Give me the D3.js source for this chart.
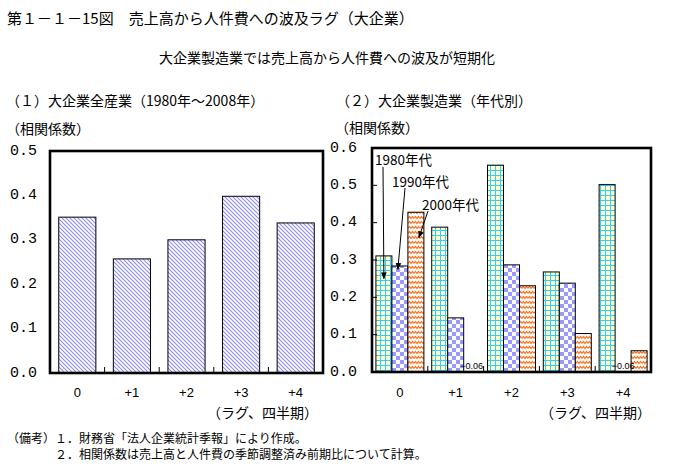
<!DOCTYPE html>
<html><head><meta charset="utf-8">
<script src="https://cdn.jsdelivr.net/npm/d3@7/dist/d3.min.js"></script>
<style>
html,body{margin:0;padding:0;background:#fff;}
svg{display:block;}
text{font-family:"Noto Sans CJK JP","Noto Sans CJK SC",sans-serif;fill:#000;}
</style></head>
<body>
<script>
// ---- data ----
const lagCategories = ["0", "+1", "+2", "+3", "+4"];
const allIndustryValues = [0.351, 0.257, 0.300, 0.398, 0.338];
const decadeSeries = ["1980年代", "1990年代", "2000年代"];
const values1980s = [0.311, 0.388, 0.554, 0.268, 0.502];
const values1990s = [0.284, 0.145, 0.287, 0.238, -0.06];
const values2000s = [0.428, -0.06, 0.231, 0.103, 0.057];
const leftTicks = [0, 0.1, 0.2, 0.3, 0.4, 0.5];
const rightTicks = [0, 0.1, 0.2, 0.3, 0.4, 0.5, 0.6];

const W = 673, H = 469;
const svg = d3.select("body").append("svg").attr("width", W).attr("height", H);
const defs = svg.append("defs");

// patterns
const pStripe = defs.append("pattern").attr("id","stripe").attr("patternUnits","userSpaceOnUse").attr("width",4).attr("height",4);
pStripe.append("rect").attr("width",4).attr("height",4).attr("fill","#fff");
pStripe.append("path").attr("d","M-1,-1 L5,5 M-1,3 L1,5 M3,-1 L5,1").attr("stroke","#8c8cf0").attr("stroke-width",1.1);

const pGrid = defs.append("pattern").attr("id","grid").attr("patternUnits","userSpaceOnUse").attr("width",5).attr("height",5);
pGrid.append("rect").attr("width",5).attr("height",5).attr("fill","#ffffcc");
pGrid.append("path").attr("d","M0,0.5 H5 M0.5,0 V5").attr("stroke","#33ccff").attr("stroke-width",1);

const pCheck = defs.append("pattern").attr("id","check").attr("patternUnits","userSpaceOnUse").attr("width",8).attr("height",8);
pCheck.append("rect").attr("width",8).attr("height",8).attr("fill","#fff");
pCheck.append("rect").attr("width",4).attr("height",4).attr("fill","#9999ff");
pCheck.append("rect").attr("x",4).attr("y",4).attr("width",4).attr("height",4).attr("fill","#9999ff");

const pWave = defs.append("pattern").attr("id","wave").attr("patternUnits","userSpaceOnUse").attr("width",6).attr("height",5);
pWave.append("rect").attr("width",6).attr("height",5).attr("fill","#fff");
pWave.append("path").attr("d","M0,3.5 L1.5,1.5 L3,3.5 L4.5,1.5 L6,3.5").attr("fill","none").attr("stroke","#ff6a10").attr("stroke-width",1.1);

const seriesFill = ["url(#grid)", "url(#check)", "url(#wave)"];

defs.append("marker").attr("id","arrow").attr("viewBox","0 0 10 10").attr("refX",9).attr("refY",5)
  .attr("markerWidth",7).attr("markerHeight",7).attr("markerUnits","userSpaceOnUse").attr("orient","auto")
  .append("path").attr("d","M0,1 L10,5 L0,9 Z").attr("fill","#000");

// titles
svg.append("text").attr("x",7).attr("y",17).attr("dominant-baseline","central")
  .style("font-size","15px").text("第１－１－15図　売上高から人件費への波及ラグ（大企業）");
svg.append("text").attr("x",327).attr("y",57).attr("text-anchor","middle").attr("dominant-baseline","central")
  .style("font-size","14px").text("大企業製造業では売上高から人件費への波及が短期化");

// ---------- left panel ----------
const L = {x0:50, x1:323, y0:151, y1:373};
svg.append("text").attr("x",6).attr("y",100).attr("dominant-baseline","central").style("font-size","14px")
  .text("（１）大企業全産業（1980年～2008年）");
svg.append("text").attr("x",6).attr("y",128).attr("dominant-baseline","central").style("font-size","14px")
  .text("（相関係数）");

const xL = d3.scaleBand().domain(lagCategories).range([L.x0, L.x1]).paddingInner(0.32).paddingOuter(0.16);
const xLb = d3.scaleBand().domain(lagCategories).range([L.x0, L.x1]);
const yL = d3.scaleLinear().domain([0, 0.5]).range([L.y1, L.y0]);

const gL = svg.append("g");
gL.selectAll("rect.bar").data(allIndustryValues).join("rect").attr("class","bar")
  .attr("x",(d,i)=>xL(lagCategories[i])).attr("width",xL.bandwidth())
  .attr("y",d=>yL(d)).attr("height",d=>yL(0)-yL(d))
  .attr("fill","url(#stripe)").attr("stroke","#000").attr("stroke-width",1);

gL.selectAll("line.ct").data(lagCategories.slice(1)).join("line").attr("class","ct")
  .attr("x1",d=>xLb(d)).attr("x2",d=>xLb(d)).attr("y1",L.y1).attr("y2",L.y1-6)
  .attr("stroke","#000").attr("stroke-width",1);

gL.append("rect").attr("x",L.x0).attr("y",L.y0).attr("width",L.x1-L.x0).attr("height",L.y1-L.y0)
  .attr("fill","none").attr("stroke","#000").attr("stroke-width",2.6);

gL.selectAll("text.yt").data(leftTicks).join("text").attr("class","yt")
  .attr("x",37).attr("y",d=>yL(d)).attr("text-anchor","end").attr("dominant-baseline","central")
  .style("font-family","'Liberation Mono',monospace").style("font-size","15px")
  .text(d=>d3.format(".1f")(d));
gL.selectAll("text.xt").data(lagCategories).join("text").attr("class","xt")
  .attr("x",d=>xLb(d)+xLb.bandwidth()/2).attr("y",392).attr("text-anchor","middle").attr("dominant-baseline","central")
  .style("font-family","'Liberation Sans',sans-serif").style("font-size","13px").text(d=>d);
svg.append("text").attr("x",318).attr("y",412).attr("text-anchor","end").attr("dominant-baseline","central")
  .style("font-size","14px").text("（ラグ、四半期）");

// ---------- right panel ----------
const R = {x0:372, x1:651, y0:148, y1:372};
svg.append("text").attr("x",336).attr("y",100).attr("dominant-baseline","central").style("font-size","14px")
  .text("（２）大企業製造業（年代別）");
svg.append("text").attr("x",335).attr("y",127).attr("dominant-baseline","central").style("font-size","14px")
  .text("（相関係数）");

const x0R = d3.scaleBand().domain(lagCategories).range([R.x0, R.x1]);
const x1R = d3.scaleBand().domain(decadeSeries).range([x0R.bandwidth()*0.07, x0R.bandwidth()*0.93]);
const yR = d3.scaleLinear().domain([0, 0.6]).range([R.y1, R.y0]);

const seriesValues = [values1980s, values1990s, values2000s];
const flat = [];
seriesValues.forEach((vals, s) => vals.forEach((v, i) => flat.push({s, i, v})));

const gR = svg.append("g");
gR.selectAll("rect.bar").data(flat.filter(d=>d.v>0)).join("rect").attr("class","bar")
  .attr("x",d=>x0R(lagCategories[d.i]) + x1R(decadeSeries[d.s])).attr("width",x1R.bandwidth())
  .attr("y",d=>yR(d.v)).attr("height",d=>yR(0)-yR(d.v))
  .attr("fill",d=>seriesFill[d.s]).attr("stroke","#000").attr("stroke-width",1);

gR.selectAll("text.neg").data(flat.filter(d=>d.v<0)).join("text").attr("class","neg")
  .attr("x",d=>x0R(lagCategories[d.i]) + x1R(decadeSeries[d.s]) + x1R.bandwidth()/2)
  .attr("y",yR(0)-6).attr("text-anchor","middle").attr("dominant-baseline","central")
  .style("font-family","'Liberation Sans',sans-serif").style("font-size","9px")
  .text(d=>d3.format(".2f")(d.v));

gR.selectAll("line.ct").data(lagCategories.slice(1)).join("line").attr("class","ct")
  .attr("x1",d=>x0R(d)).attr("x2",d=>x0R(d)).attr("y1",R.y1).attr("y2",R.y1-6)
  .attr("stroke","#000").attr("stroke-width",1);
gR.selectAll("line.yt").data(rightTicks.slice(1,-1)).join("line").attr("class","yt")
  .attr("x1",R.x0).attr("x2",R.x0+5).attr("y1",d=>yR(d)).attr("y2",d=>yR(d))
  .attr("stroke","#000").attr("stroke-width",1);

gR.append("rect").attr("x",R.x0).attr("y",R.y0).attr("width",R.x1-R.x0).attr("height",R.y1-R.y0)
  .attr("fill","none").attr("stroke","#000").attr("stroke-width",2.6);

gR.selectAll("text.yt").data(rightTicks).join("text").attr("class","yt")
  .attr("x",357).attr("y",d=>yR(d)).attr("text-anchor","end").attr("dominant-baseline","central")
  .style("font-family","'Liberation Mono',monospace").style("font-size","15px")
  .text(d=>d3.format(".1f")(d));
gR.selectAll("text.xt").data(lagCategories).join("text").attr("class","xt")
  .attr("x",d=>x0R(d)+x0R.bandwidth()/2).attr("y",392).attr("text-anchor","middle").attr("dominant-baseline","central")
  .style("font-family","'Liberation Sans',sans-serif").style("font-size","13px").text(d=>d);
svg.append("text").attr("x",651).attr("y",412).attr("text-anchor","end").attr("dominant-baseline","central")
  .style("font-size","14px").text("（ラグ、四半期）");

// series annotations with arrows
const annot = [
  {s:0, tx:375, ty:159, ax:383, ay:167, ey:0.25, dx:0},
  {s:1, tx:392, ty:181, ax:405, ay:188, ey:0.275, dx:-2},
  {s:2, tx:422, ty:204, ax:428, ay:211, ey:0.36, dx:3}
];
annot.forEach(a => {
  svg.append("text").attr("x",a.tx).attr("y",a.ty).attr("dominant-baseline","central")
    .style("font-size","13.5px").text(decadeSeries[a.s]);
  const ex = x0R(lagCategories[0]) + x1R(decadeSeries[a.s]) + x1R.bandwidth()/2 + a.dx;
  svg.append("line").attr("x1",a.ax).attr("y1",a.ay).attr("x2",ex).attr("y2",yR(a.ey))
    .attr("stroke","#000").attr("stroke-width",1).attr("marker-end","url(#arrow)");
});

// notes
svg.append("text").attr("x",7).attr("y",437).attr("dominant-baseline","central").style("font-size","12px")
  .text("（備考）１．財務省「法人企業統計季報」により作成。");
svg.append("text").attr("x",55).attr("y",453).attr("dominant-baseline","central").style("font-size","12px")
  .text("２．相関係数は売上高と人件費の季節調整済み前期比について計算。");
</script>
</body></html>
